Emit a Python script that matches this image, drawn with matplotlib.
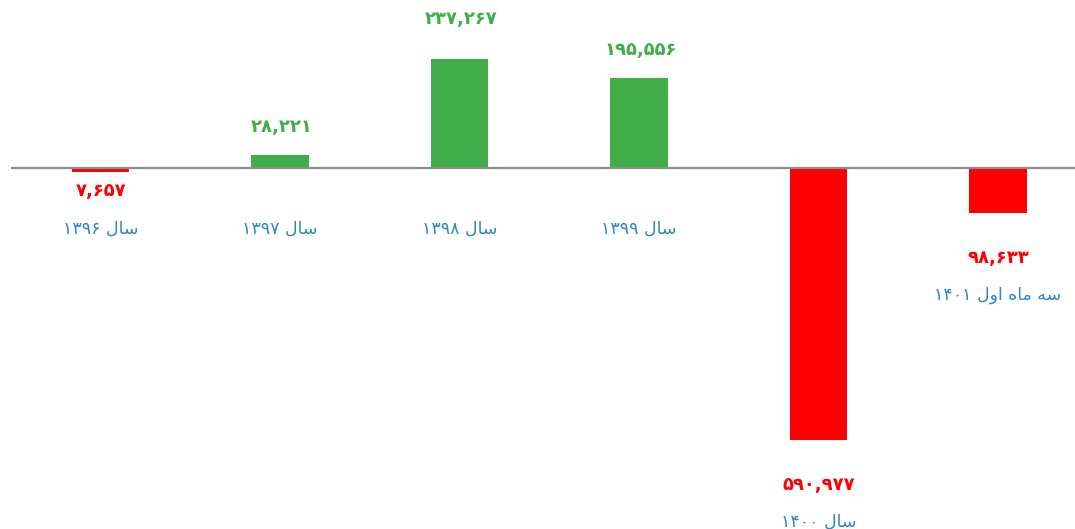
import matplotlib
matplotlib.use('Agg')
import matplotlib.pyplot as plt
import matplotlib.transforms as mtransforms

# data (net result per year)
categories = ['سال ۱۳۹۶', 'سال ۱۳۹۷', 'سال ۱۳۹۸', 'سال ۱۳۹۹', 'سال ۱۴۰۰', 'سه ماه اول ۱۴۰۱']
values = [-7657, 28221, 237267, 195556, -590977, -98633]

GREEN = '#41AD49'
RED = '#FF0000'
BLUE = '#2E86C6'
LINE = '#8C8C8C'

# tiny arabic shaper: letters used here -> (isolated, final, initial, medial)
FORMS = {
    'ا': ('\uFE8D', '\uFE8E', None, None),
    'و': ('\uFEED', '\uFEEE', None, None),
    'س': ('\uFEB1', '\uFEB2', '\uFEB3', '\uFEB4'),
    'ل': ('\uFEDD', '\uFEDE', '\uFEDF', '\uFEE0'),
    'ه': ('\uFEE9', '\uFEEA', '\uFEEB', '\uFEEC'),
    'م': ('\uFEE1', '\uFEE2', '\uFEE3', '\uFEE4'),
}


def shape_word(w):
    out = []
    for i, ch in enumerate(w):
        if ch not in FORMS:
            out.append(ch)
            continue
        prev = w[i - 1] if i > 0 else None
        nxt = w[i + 1] if i < len(w) - 1 else None
        jp = prev in FORMS and FORMS[prev][2] is not None
        jn = nxt in FORMS and FORMS[ch][2] is not None
        iso, fin, ini, med = FORMS[ch]
        if jp and jn:
            out.append(med)
        elif jp:
            out.append(fin)
        elif jn:
            out.append(ini)
        else:
            out.append(iso)
    return out


def rtl(text):
    words = text.split(' ')
    vis = []
    for w in reversed(words):
        if any(c in FORMS for c in w):
            vis.append(''.join(reversed(shape_word(w))))
        else:
            vis.append(w)
    return ' '.join(vis)


FA_DIGITS = str.maketrans('0123456789', '۰۱۲۳۴۵۶۷۸۹')


def fa_num(v):
    return f'{abs(v):,}'.translate(FA_DIGITS)


fig = plt.figure(figsize=(10.75, 5.29), dpi=100)
ax = fig.add_axes([11 / 1075, 0, 1 - 11 / 1075, 1])
ax.set_xlim(-0.5, 5.43)
ax.set_ylim(-784000, 365000)
ax.axis('off')

x = list(range(len(values)))
colors = [GREEN if v > 0 else RED for v in values]
ax.bar(x, values, width=0.32, color=colors, zorder=2)
ax.axhline(0, color=LINE, lw=1.6, zorder=3)

trans = mtransforms.blended_transform_factory(ax.transData, ax.transAxes)
for i, v in enumerate(values):
    if v > 0:
        gap = 29 if v > 220000 else 20
        ax.annotate(fa_num(v), (i, v), xytext=(1, gap), textcoords='offset points',
                    ha='center', va='center', color=GREEN, fontsize=13,
                    fontweight='bold', family='DejaVu Sans')
    else:
        gap = -14 if v > -20000 else -32
        ax.annotate(fa_num(v), (i, v), xytext=(0, gap), textcoords='offset points',
                    ha='center', va='center', color=RED, fontsize=13,
                    fontweight='bold', family='DejaVu Sans')
    if v > -20000:
        ax.text(i, 1 - 229 / 529, rtl(categories[i]), transform=trans, ha='center',
                va='center', color=BLUE, fontsize=12.5, family='DejaVu Sans')
    else:
        ax.annotate(rtl(categories[i]), (i, v), xytext=(0, gap - 27),
                    textcoords='offset points', ha='center', va='center',
                    color=BLUE, fontsize=12.5, family='DejaVu Sans')

fig.savefig('out.png', dpi=100)
